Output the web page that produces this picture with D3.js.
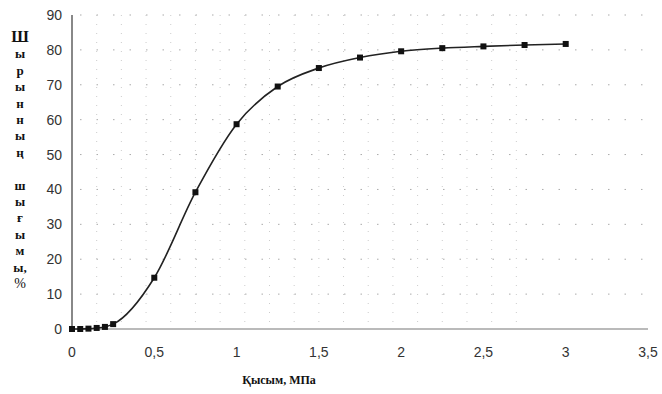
<!DOCTYPE html>
<html><head><meta charset="utf-8">
<script src="https://cdn.jsdelivr.net/npm/d3@7"></script>
<style>body{margin:0;background:#fff}svg{display:block}</style>
</head><body>
<svg id="c" width="662" height="394"></svg>
<script>
const pressure = [0, 0.05, 0.1, 0.15, 0.2, 0.25, 0.5, 0.75, 1, 1.25, 1.5, 1.75, 2, 2.25, 2.5, 2.75, 3];
const juiceYield = [0, 0, 0.1, 0.3, 0.6, 1.4, 14.7, 39.2, 58.7, 69.5, 74.8, 77.8, 79.6, 80.5, 81, 81.4, 81.7];
const xTicks = [0, 0.5, 1, 1.5, 2, 2.5, 3, 3.5];
const xTickLabels = ["0", "0,5", "1", "1,5", "2", "2,5", "3", "3,5"];
const yTicks = [0, 10, 20, 30, 40, 50, 60, 70, 80, 90];
const yLabelLetters = ["Ш","ы","р","ы","н","н","ы","ң","","ш","ы","ғ","ы","м","ы,","%"];
const xTitle = "Қысым, МПа";

const serif = "'Liberation Serif', 'DejaVu Serif', 'Times New Roman', serif";
const sans = "'Liberation Sans', Arial, sans-serif";

const svg = d3.select("#c");
const x = d3.scaleLinear().domain([0, 3.5]).range([72, 648]);
const y = d3.scaleLinear().domain([0, 90]).range([329, 15]);

// faint dotted grid
const g = svg.append("g");
g.selectAll("line.h").data(yTicks.slice(1)).join("line")
  .attr("x1", x(0)+8).attr("x2", x(3.5)).attr("y1", d=>y(d)).attr("y2", d=>y(d))
  .attr("stroke", "#aaa").attr("stroke-width", 1).attr("stroke-dasharray", "1.5,15");
const vGrid = d3.range(0.15, 2.8, 0.15);
g.selectAll("line.v").data(vGrid).join("line")
  .attr("x1", d=>x(d)).attr("x2", d=>x(d)).attr("y1", y(90)).attr("y2", y(0))
  .attr("stroke", "#ccc").attr("stroke-width", 1).attr("stroke-dasharray", "1,8");

// axes lines
svg.append("line").attr("x1", x(0)).attr("x2", x(3.5)).attr("y1", y(0)).attr("y2", y(0))
  .attr("stroke", "#777").attr("stroke-width", 1.2);
svg.append("line").attr("x1", x(0)).attr("x2", x(0)).attr("y1", y(90)).attr("y2", y(0))
  .attr("stroke", "#888").attr("stroke-width", 2);

// tick labels
svg.selectAll("text.yt").data(yTicks).join("text")
  .attr("x", 62).attr("y", d=>y(d)).attr("dy", "0.36em").attr("text-anchor", "end")
  .attr("font-family", sans).attr("font-size", 14).attr("fill", "#333")
  .text(d=>d);
svg.selectAll("text.xt").data(xTicks).join("text")
  .attr("x", d=>x(d)).attr("y", 357).attr("text-anchor", "middle")
  .attr("font-family", sans).attr("font-size", 14).attr("fill", "#333")
  .text((d,i)=>xTickLabels[i]);

// curve
const pts = pressure.map((p,i)=>[p, juiceYield[i]]);
svg.append("path").datum(pts)
  .attr("d", d3.line().x(d=>x(d[0])).y(d=>y(d[1])).curve(d3.curveMonotoneX))
  .attr("fill", "none").attr("stroke", "#222").attr("stroke-width", 1.6);
svg.selectAll("rect.m").data(pts).join("rect")
  .attr("x", d=>x(d[0])-3).attr("y", d=>y(d[1])-3).attr("width", 6).attr("height", 6)
  .attr("fill", "#111");

// y title (stacked letters)
svg.selectAll("text.yl").data(yLabelLetters).join("text")
  .attr("x", 20).attr("y", (d,i)=>42 + i*16.4).attr("text-anchor", "middle")
  .attr("font-family", serif)
  .attr("font-weight", d=>d==="%"?"normal":"bold")
  .attr("font-size", (d,i)=>i===0?16:(d==="%"?14:13)).attr("fill", "#111")
  .text(d=>d);

// x title
svg.append("text").attr("x", 279).attr("y", 384).attr("text-anchor", "middle")
  .attr("font-family", serif).attr("font-weight", "bold")
  .attr("font-size", 12).attr("fill", "#111").text(xTitle);
</script>
</body></html>
